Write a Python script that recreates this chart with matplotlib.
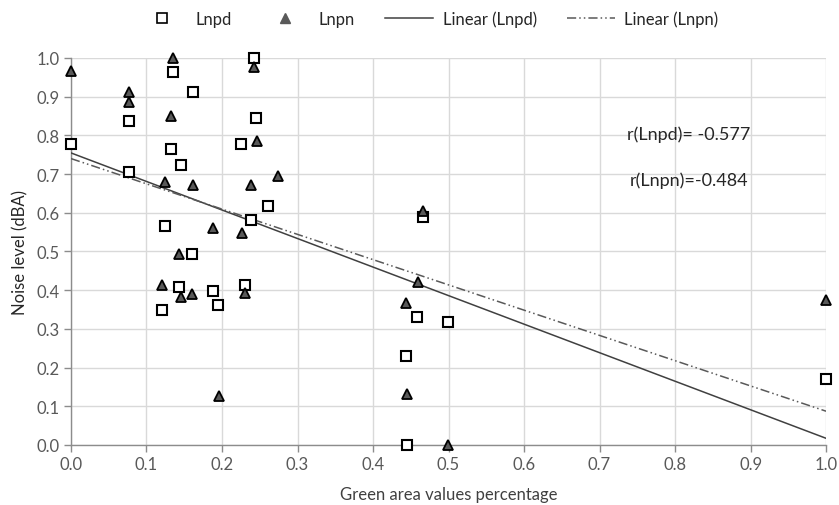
import numpy as np
import matplotlib
matplotlib.use("Agg")
import matplotlib.pyplot as plt
from matplotlib.lines import Line2D

# Data
lnpd_x = [0.000, 0.077, 0.077, 0.135, 0.162, 0.133, 0.146, 0.243, 0.245, 0.225,
          0.261, 0.239, 0.125, 0.160, 0.143, 0.120, 0.188, 0.195, 0.231, 0.458,
          0.499, 0.444, 0.445, 0.466, 1.000]
lnpd_y = [0.778, 0.837, 0.706, 0.963, 0.911, 0.765, 0.724, 0.999, 0.845, 0.778,
          0.617, 0.581, 0.567, 0.494, 0.407, 0.349, 0.399, 0.362, 0.413, 0.332,
          0.319, 0.231, 0.000, 0.588, 0.171]

lnpn_x = [0.000, 0.077, 0.077, 0.135, 0.133, 0.125, 0.162, 0.243, 0.246, 0.239,
          0.274, 0.188, 0.226, 0.143, 0.121, 0.146, 0.160, 0.231, 0.196, 0.459,
          0.444, 0.445, 0.499, 0.466, 1.000]
lnpn_y = [0.967, 0.911, 0.887, 0.999, 0.849, 0.680, 0.673, 0.977, 0.785, 0.673,
          0.696, 0.560, 0.547, 0.494, 0.413, 0.383, 0.390, 0.392, 0.126, 0.422,
          0.366, 0.132, 0.000, 0.605, 0.375]

ticks = [0.0, 0.1, 0.2, 0.3, 0.4, 0.5, 0.6, 0.7, 0.8, 0.9, 1.0]
r_labels = ["r(Lnpd)= -0.577", "r(Lnpn)=-0.484"]

plt.rcParams['font.family'] = ['Lato', 'DejaVu Sans']

fig = plt.figure(figsize=(8.39, 5.06), dpi=100)
ax = fig.add_axes([0.0846, 0.1186, 0.9, 0.7648])

ax.set_xlim(0, 1)
ax.set_ylim(0, 1)
ax.set_xticks(ticks)
ax.set_yticks(ticks)
ax.set_xticklabels([f"{t:.1f}" for t in ticks], fontsize=12)
ax.set_yticklabels([f"{t:.1f}" for t in ticks], fontsize=12)
ax.grid(True, color='#d9d9d9', lw=1)
ax.set_axisbelow(True)
for s in ['top', 'right']:
    ax.spines[s].set_visible(False)
for s in ['left', 'bottom']:
    ax.spines[s].set_color('#8c8c8c')
    ax.spines[s].set_linewidth(1)
ax.tick_params(axis='both', color='#8c8c8c', length=5, width=1, labelcolor='#595959', pad=3)

# trendlines (least-squares fits of the data)
xl = np.array([0.0, 1.0])
p1 = np.polyfit(lnpd_x, lnpd_y, 1)
p2 = np.polyfit(lnpn_x, lnpn_y, 1)
ax.plot(xl, np.polyval(p1, xl), color='#404040', lw=1.1, zorder=3)
ax.plot(xl, np.polyval(p2, xl), color='#595959', lw=1.1, dashes=[6, 2, 1, 2, 1, 2], zorder=3)

ax.plot(lnpd_x, lnpd_y, ls='none', marker='s', ms=6.5, mfc='white', mec='black', mew=1.5, clip_on=False, zorder=4)
ax.plot(lnpn_x, lnpn_y, ls='none', marker='^', ms=6.5, mfc='#595959', mec='black', mew=1.3, clip_on=False, zorder=4)

ax.text(0.736, 0.804, r_labels[0], fontsize=13, color='#262626', va='center', ha='left')
ax.text(0.740, 0.685, r_labels[1], fontsize=13, color='#262626', va='center', ha='left')

ax.set_xlabel("Green area values percentage", fontsize=12, color='#404040', labelpad=10)
ax.set_ylabel("Noise level (dBA)", fontsize=12, color='#262626', labelpad=6)

handles = [
    Line2D([], [], ls='none', marker='s', ms=6.5, mfc='white', mec='black', mew=1.2),
    Line2D([], [], ls='none', marker='^', ms=6.5, mfc='#595959', mec='#595959'),
    Line2D([], [], color='#404040', lw=1.1),
    Line2D([], [], color='#595959', lw=1.1, dashes=[6, 2, 1, 2, 1, 2]),
]
fig.legend(handles, ["Lnpd", "Lnpn", "Linear (Lnpd)", "Linear (Lnpn)"],
           loc='center', bbox_to_anchor=(0.51, 0.962), ncol=4, frameon=False,
           fontsize=12, handlelength=2.9, columnspacing=1.8, handletextpad=0.55,
           labelcolor='#262626')

fig.savefig("out.png", dpi=100)
